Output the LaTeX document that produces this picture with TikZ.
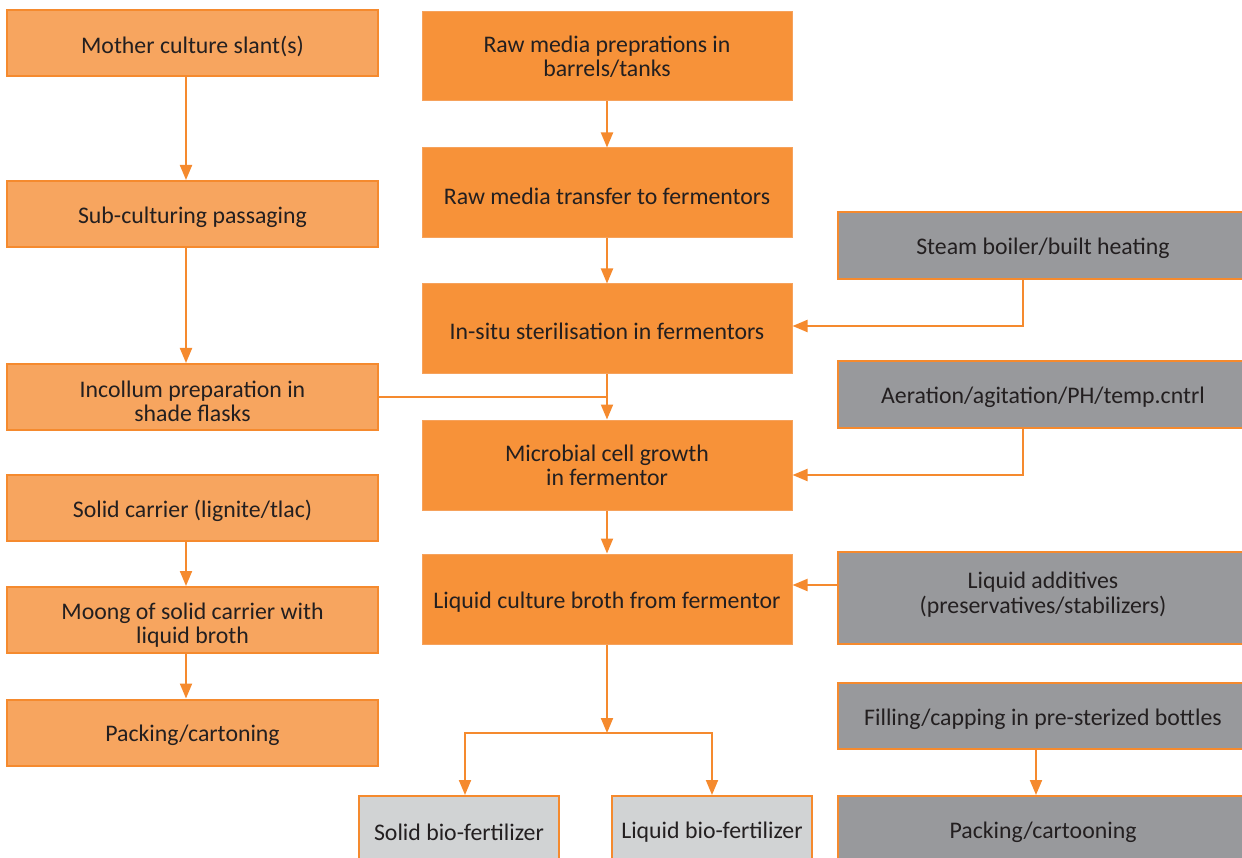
\documentclass[tikz,border=0pt]{standalone}
\usepackage{fontspec}
\setmainfont{Carlito}
\usetikzlibrary{arrows.meta,calc}
\definecolor{lorange}{HTML}{F7A55F}
\definecolor{morange}{HTML}{F79239}
\definecolor{edgeor}{HTML}{F58A2E}
\definecolor{medge}{HTML}{F6A25C}
\definecolor{gbox}{HTML}{98999C}
\definecolor{lgbox}{HTML}{D1D3D4}
\definecolor{txt}{HTML}{231F20}
\newcommand\lowone[2][3pt]{\raisebox{-#1}[\height][\depth]{#2}}
\newcommand\twolines[3][0pt]{\raisebox{#1}[\height][\depth]{\begin{tabular}{@{}c@{}}#2\\#3\end{tabular}}}
\tikzset{
  basebox/.style={draw, inner sep=0pt, align=center, text=txt,
    font=\fontsize{23.8}{24}\selectfont},
  leftbox/.style={basebox, fill=lorange, draw=edgeor, line width=2pt,
    minimum width=371pt, minimum height=66pt},
  midbox/.style={basebox, fill=morange, draw=medge, line width=1pt,
    minimum width=370pt, minimum height=90pt},
  rightbox/.style={basebox, fill=gbox, draw=edgeor, line width=2pt,
    minimum width=410pt, minimum height=67pt},
  endbox/.style={basebox, fill=lgbox, draw=edgeor, line width=2pt,
    minimum width=200pt, minimum height=66pt},
  conn/.style={draw=edgeor, line width=2pt},
  arr/.style={conn, -{Triangle[length=15pt,width=12pt]}},
}
\begin{document}
\begin{tikzpicture}[x=1pt,y=-1pt]
\useasboundingbox (0,0) rectangle (1242,858);
% left column
\node[leftbox] (mother) at (192.5,43) {\lowone{Mother culture slant(s)}};
\node[leftbox] (sub) at (192.5,214) {\lowone{Sub-culturing passaging}};
\node[leftbox] (incollum) at (192.5,397) {\twolines[-8pt]{Incollum preparation in}{shade flasks}};
\node[leftbox] (solid) at (192.5,508) {\lowone{Solid carrier (lignite/tlac)}};
\node[leftbox] (moong) at (192.5,620) {\twolines[-7pt]{Moong of solid carrier with}{liquid broth}};
\node[leftbox] (packl) at (192.5,732.5) {\lowone{Packing/cartoning}};
% middle column
\node[midbox, minimum height=89pt] (raw) at (607,56.5) {Raw media preprations in\\barrels/tanks};
\node[midbox] (transfer) at (607,193) {\lowone{Raw media transfer to fermentors}};
\node[midbox] (insitu) at (607,329) {\lowone[2pt]{In-situ sterilisation in fermentors}};
\node[midbox] (micro) at (607,465) {Microbial cell growth\\in fermentor};
\node[midbox] (liquid) at (607,599) {\lowone{Liquid culture broth from fermentor}};
% right column
\node[rightbox] (steam) at (1043,245.5) {\lowone{Steam boiler/built heating}};
\node[rightbox] (aeration) at (1043,394.5) {\lowone{Aeration/agitation/PH/temp.cntrl}};
\node[rightbox, minimum height=92pt] (additives) at (1043,598) {\twolines[2pt]{Liquid additives}{(preservatives/stabilizers)}};
\node[rightbox, minimum height=66pt] (filling) at (1043,716) {\lowone{Filling/capping in pre-sterized bottles}};
\node[rightbox, minimum height=66pt] (packr) at (1043,829) {\lowone{Packing/cartooning}};
% bottom products
\node[endbox] (solidbio) at (459,829) {\lowone{Solid bio-fertilizer}};
\node[endbox] (liquidbio) at (712,829) {\lowone{Liquid bio-fertilizer}};
% helper coordinates
\coordinate (lx) at (186,0);
\coordinate (rx) at (1023,0);
\coordinate (split) at (607,733);
\coordinate (ya) at (0,475);
\coordinate (yb) at (0,585);
% left column arrows
\draw[arr] (mother.south -| lx) -- (sub.north -| lx);
\draw[arr] (sub.south -| lx) -- (incollum.north -| lx);
\draw[arr] (solid.south -| lx) -- (moong.north -| lx);
\draw[arr] (moong.south -| lx) -- (packl.north -| lx);
% middle column arrows
\draw[arr] (raw.south) -- (transfer.north);
\draw[arr] (transfer.south) -- (insitu.north);
\draw[arr] (insitu.south) -- (micro.north);
\draw[conn] (incollum.east) -- (incollum.east -| micro.north);
\draw[arr] (micro.south) -- (liquid.north);
% right inputs
\draw[arr] (steam.south -| rx) |- ($(insitu.east)+(0,-3)$);
\draw[arr] (aeration.south -| rx) |- (micro.east |- ya);
\draw[arr] (additives.west |- yb) -- (liquid.east |- yb);
\draw[arr] ($(filling.south)+(-7,0)$) -- ($(packr.north)+(-7,0)$);
% split to products
\draw[arr] (liquid.south) -- (split);
\draw[arr] (split) -| ($(solidbio.north)+(6,0)$);
\draw[arr] (split) -| (liquidbio.north);
\end{tikzpicture}
\end{document}
